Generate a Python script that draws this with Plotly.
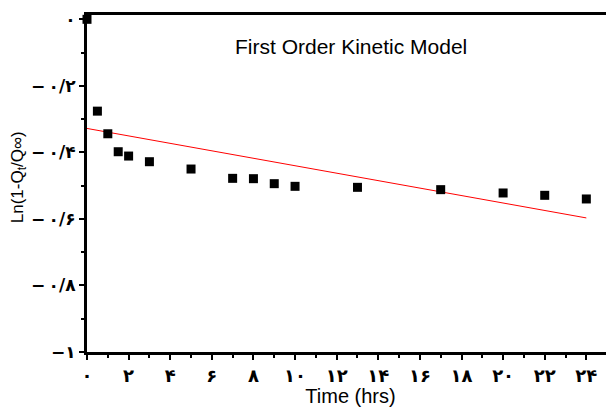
import plotly.graph_objects as go

# data
time_hrs = [0, 0.5, 1, 1.5, 2, 3, 5, 7, 8, 9, 10, 13, 17, 20, 22, 24]
ln_val = [0.0, -0.276, -0.344, -0.398, -0.411, -0.428, -0.450, -0.478,
          -0.479, -0.494, -0.502, -0.505, -0.512, -0.522, -0.529, -0.540]

fit_x = [0, 24]
fit_y = [-0.328, -0.597]

fa = "۰۱۲۳۴۵۶۷۸۹"


def fa_num(s):
    return "".join(fa[int(c)] if c.isdigit() else c for c in s)


x_ticks = list(range(0, 25, 2))
x_labels = ["<b>" + fa_num(str(v)) + "</b>" for v in x_ticks]
y_ticks = [0, -0.2, -0.4, -0.6, -0.8, -1]
y_labels = ["<b>" + t + "</b>" for t in
            [fa_num("0"), "−\u2009" + fa_num("0/2"), "−\u2009" + fa_num("0/4"),
             "−\u2009" + fa_num("0/6"), "−\u2009" + fa_num("0/8"), "−" + fa_num("1")]]

fig = go.Figure()
fig.add_trace(go.Scatter(x=fit_x, y=fit_y, mode="lines",
                         line=dict(color="red", width=1), showlegend=False))
fig.add_trace(go.Scatter(x=time_hrs, y=ln_val, mode="markers",
                         marker=dict(symbol="square", size=9, color="black"),
                         showlegend=False, cliponaxis=False))

fig.add_annotation(text="First Order Kinetic Model", xref="paper", yref="paper",
                   x=0.5, y=0.947, showarrow=False,
                   font=dict(family="Liberation Sans", size=21, color="black"))
# y title placed by hand so it sits clear of the tick labels
fig.add_annotation(text="Ln(1-Q<sub>t</sub>/Q∞)", xref="paper", yref="paper",
                   x=-0.13, y=0.52, textangle=-90, showarrow=False,
                   xanchor="center", yanchor="middle",
                   font=dict(family="Liberation Sans", size=17, color="black"))

fig.update_xaxes(range=[0, 25.33], tickvals=x_ticks, ticktext=x_labels,
                 showline=True, linewidth=3, linecolor="black", mirror=True,
                 ticks="outside", ticklen=5, tickwidth=2, tickcolor="black",
                 minor=dict(dtick=1, ticks="outside", ticklen=3, tickcolor="black"),
                 showgrid=False, zeroline=False, automargin=False,
                 tickfont=dict(family="DejaVu Sans", size=18, color="black"),
                 title=dict(text="Time (hrs)", standoff=2,
                            font=dict(family="Liberation Sans", size=20, color="black")))
fig.update_yaxes(range=[-1.0, 0.013], tickvals=y_ticks, ticktext=y_labels,
                 showline=True, linewidth=3, linecolor="black",
                 ticks="outside", ticklen=5, tickwidth=2, tickcolor="black",
                 minor=dict(dtick=0.1, ticks="outside", ticklen=3, tickcolor="black"),
                 showgrid=False, zeroline=False, automargin=False,
                 tickfont=dict(family="DejaVu Sans", size=17, color="black"))

# page body has an 8px margin, so the figure is sized to fit the window
fig.update_layout(width=606, height=399, margin=dict(l=79, r=0, t=7, b=55),
                  plot_bgcolor="white", paper_bgcolor="white")

fig.write_html("out.html")
